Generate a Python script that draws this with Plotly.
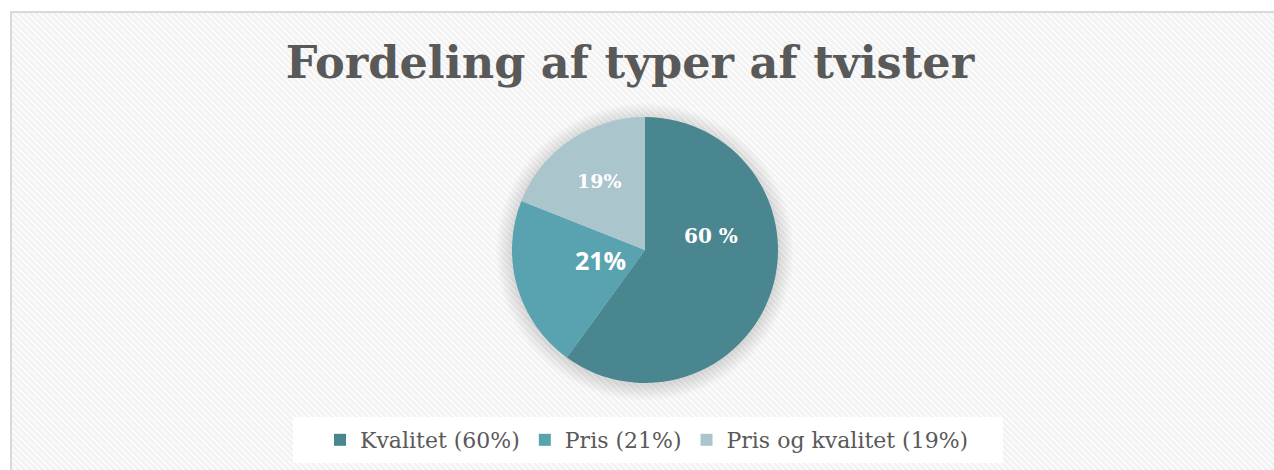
import base64
import plotly.graph_objects as go

# ---- data ----
categories = ["Kvalitet (60%)", "Pris (21%)", "Pris og kvalitet (19%)"]
values = [60, 21, 19]
slice_labels = ["60 %", "21%", "19%"]
title_text = "Fordeling af typer af tvister"

# ---- style ----
colors = ["#4A868F", "#58A3AF", "#ABC5CD"]
W, H = 1274, 470
cx, cy, r = 645, 250, 133
# label styling: (x px, y px, family, size)
label_style = [
    (711, 236, "DejaVu Serif", 20),
    (600, 260, "Open Sans", 25),
    (599, 181, "DejaVu Serif", 19),
]


def px_x(x):
    return x / W


def px_y(y):
    return 1 - y / H


# hatched background with border
bx, by = 10, 11
bw, bh = W - bx + 4, H - by + 4
svg = f'''<svg xmlns="http://www.w3.org/2000/svg" width="{bw}" height="{bh}" viewBox="0 0 {bw} {bh}">
<defs><pattern id="p" patternUnits="userSpaceOnUse" width="6" height="6">
<rect width="6" height="6" fill="#fcfcfc"/>
<path d="M-1,-1 L7,7 M-1,5 L1,7 M5,-1 L7,1" stroke="#f1f1f1" stroke-width="2"/>
</pattern></defs>
<rect x="0" y="0" width="{bw}" height="{bh}" fill="url(#p)"/>
<rect x="1" y="1" width="{bw+4}" height="{bh+4}" fill="none" stroke="#d9d9d9" stroke-width="2"/>
</svg>'''
src = "data:image/svg+xml;base64," + base64.b64encode(svg.encode()).decode()

fig = go.Figure()
fig.add_trace(go.Pie(
    labels=categories,
    values=values,
    sort=False,
    direction="clockwise",
    rotation=0,
    marker=dict(colors=colors, line=dict(width=0)),
    textinfo="none",
    hoverinfo="label+percent",
    domain=dict(x=[px_x(cx - r), px_x(cx + r)], y=[px_y(cy + r), px_y(cy - r)]),
))

shapes = []
# soft shadow behind the pie
n = 16
for k in range(n, 0, -1):
    rr = r + k
    shapes.append(dict(
        type="circle", xref="paper", yref="paper", layer="below",
        x0=px_x(cx - rr), x1=px_x(cx + rr),
        y0=px_y(cy + 2 + rr), y1=px_y(cy + 2 - rr),
        fillcolor="rgba(0,0,0,0.009)", line=dict(width=0),
    ))
# white legend box
shapes.append(dict(
    type="rect", xref="paper", yref="paper", layer="below",
    x0=px_x(293), x1=px_x(1003), y0=px_y(463), y1=px_y(417),
    fillcolor="#ffffff", line=dict(width=0),
))

annotations = []
for txt, (lx, ly, fam, sz) in zip(slice_labels, label_style):
    annotations.append(dict(
        text=txt, x=px_x(lx), y=px_y(ly), xref="paper", yref="paper",
        showarrow=False, xanchor="center", yanchor="middle",
        font=dict(family=fam, size=sz, color="#ffffff", weight="bold"),
    ))

fig.update_layout(
    width=W, height=H,
    margin=dict(l=0, r=0, t=0, b=0),
    paper_bgcolor="#ffffff",
    plot_bgcolor="rgba(0,0,0,0)",
    images=[dict(source=src, xref="paper", yref="paper",
                 x=px_x(bx), y=px_y(by), sizex=bw / W, sizey=bh / H,
                 xanchor="left", yanchor="top", sizing="stretch", layer="below")],
    shapes=shapes,
    annotations=annotations,
    title=dict(
        text=title_text,
        x=px_x(630), xanchor="center",
        y=px_y(62), yanchor="middle",
        font=dict(family="DejaVu Serif", size=44.6, color="#595959", weight="bold"),
    ),
    showlegend=True,
    legend=dict(
        orientation="h",
        x=px_x(647), xanchor="center",
        y=px_y(440), yanchor="middle",
        bgcolor="rgba(0,0,0,0)",
        font=dict(family="DejaVu Serif", size=22, color="#595959"),
        traceorder="normal",
        itemwidth=30,
        entrywidth=0,
    ),
)

fig.write_html("out.html")
